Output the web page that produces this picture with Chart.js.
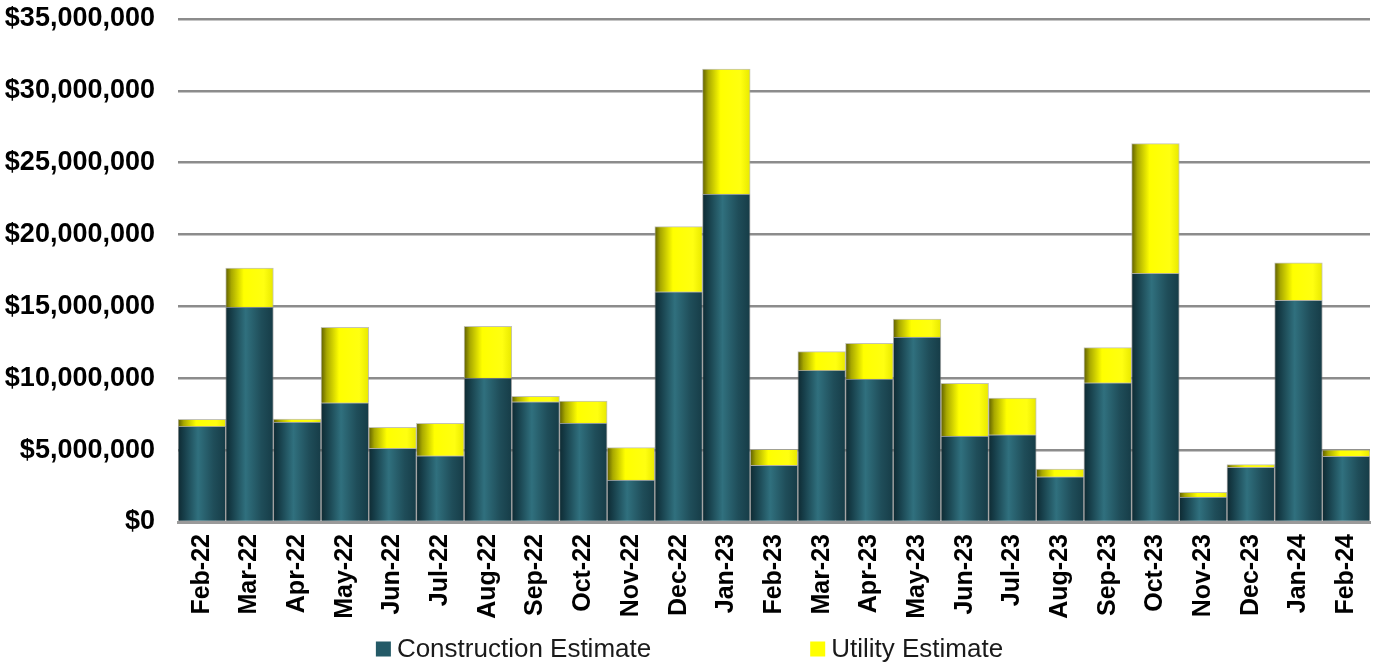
<!DOCTYPE html>
<html>
<head>
<meta charset="utf-8">
<script src="https://cdn.jsdelivr.net/npm/chart.js@4.4.1/dist/chart.umd.min.js"></script>
<style>
  html, body { margin: 0; padding: 0; background: #ffffff; }
  #wrap { width: 1379px; height: 667px; position: relative; }
</style>
</head>
<body>
<div id="wrap"><canvas id="c" width="1379" height="667"></canvas></div>
<script>
const categories = ["Feb-22","Mar-22","Apr-22","May-22","Jun-22","Jul-22","Aug-22","Sep-22","Oct-22","Nov-22","Dec-22","Jan-23","Feb-23","Mar-23","Apr-23","May-23","Jun-23","Jul-23","Aug-23","Sep-23","Oct-23","Nov-23","Dec-23","Jan-24","Feb-24"];
const constructionEstimate = [6650000,14960000,6960000,8300000,5130000,4610000,10020000,8370000,6890000,2920000,16020000,22820000,3950000,10550000,9950000,12870000,5980000,6070000,3150000,9690000,17300000,1740000,3810000,15430000,4570000];
const utilityEstimate = [500000,2710000,210000,5250000,1460000,2260000,3600000,380000,1530000,2250000,4530000,8700000,1110000,1300000,2480000,1250000,3670000,2560000,540000,2440000,9030000,330000,180000,2610000,460000];
const yTicks = [0,5000000,10000000,15000000,20000000,25000000,30000000,35000000];
const seriesNames = ["Construction Estimate","Utility Estimate"];

const tealStops = [[0,'#0e2a32'],[0.12,'#163d48'],[0.42,'#30707e'],[0.75,'#1f4d59'],[1,'#163c47']];
const yellowStops = [[0,'#5e5e00'],[0.12,'#a8a800'],[0.38,'#ffff00'],[0.8,'#ffff10'],[1,'#e8e800']];

function barGradient(context, stops) {
  const chart = context.chart;
  const area = chart.chartArea;
  if (!area || !chart.scales.x) return stops[2][1];
  const xs = chart.scales.x;
  const cx = xs.getPixelForValue(context.dataIndex);
  const w = (area.right - area.left) / categories.length;
  const g = chart.ctx.createLinearGradient(cx - w / 2, 0, cx + w / 2, 0);
  stops.forEach(s => g.addColorStop(s[0], s[1]));
  return g;
}

const customLegend = {
  id: 'customLegend',
  afterDraw(chart) {
    const ctx = chart.ctx;
    ctx.save();
    ctx.font = '26px "Liberation Sans", Arial, sans-serif';
    ctx.textBaseline = 'middle';
    const box = 15, tp = 6, gap = 159;
    const w1 = box + tp + ctx.measureText(seriesNames[0]).width;
    const w2 = box + tp + ctx.measureText(seriesNames[1]).width;
    const total = w1 + gap + w2;
    let x = (chart.width - total) / 2;
    const y = 650;
    const colors = ['#245a67', '#ffff00'];
    [w1, w2].forEach((w, i) => {
      ctx.fillStyle = colors[i];
      ctx.fillRect(x, y - box / 2 - 1, box, box);
      ctx.fillStyle = '#1a1a1a';
      ctx.fillText(seriesNames[i], x + box + tp, y);
      x += w + gap;
    });
    ctx.restore();
  }
};

new Chart(document.getElementById('c'), {
  type: 'bar',
  data: {
    labels: categories,
    datasets: [
      {
        label: seriesNames[0],
        data: constructionEstimate,
        backgroundColor: ctx => barGradient(ctx, tealStops),
        borderColor: 'rgba(110,110,110,0.55)',
        borderWidth: 1,
        borderSkipped: 'bottom',
        barPercentage: 1,
        categoryPercentage: 1
      },
      {
        label: seriesNames[1],
        data: utilityEstimate,
        backgroundColor: ctx => barGradient(ctx, yellowStops),
        borderColor: 'rgba(170,170,150,0.7)',
        borderWidth: 1,
        borderSkipped: 'bottom',
        barPercentage: 1,
        categoryPercentage: 1
      }
    ]
  },
  options: {
    responsive: false,
    animation: false,
    layout: { padding: { top: 19, right: 9, bottom: 44, left: 0 } },
    plugins: {
      legend: { display: false },
      tooltip: { enabled: false },
      title: { display: false }
    },
    scales: {
      x: {
        stacked: true,
        grid: { display: false, drawTicks: false },
        border: { display: true, color: '#9a9a9a', width: 3 },
        ticks: {
          color: '#000',
          font: { family: '"Liberation Sans", Arial, sans-serif', size: 25, weight: 'bold' },
          maxRotation: 90, minRotation: 90,
          padding: 12,
          autoSkip: false
        },
        afterFit: s => { s.height = 101; s.paddingLeft = 0; s.paddingRight = 0; }
      },
      y: {
        stacked: true,
        min: 0,
        max: yTicks[yTicks.length - 1],
        afterBuildTicks: s => { s.ticks = yTicks.map(v => ({ value: v })); },
        grid: { color: '#8c8c8c', lineWidth: 2.5, drawTicks: false },
        border: { display: false },
        ticks: {
          color: '#000',
          font: { family: '"Liberation Sans", Arial, sans-serif', size: 27, weight: 'bold' },
          padding: 23,
          callback: v => '$' + Number(v).toLocaleString('en-US')
        },
        afterFit: s => { s.width = 178; s.paddingTop = 0; s.paddingBottom = 0; }
      }
    }
  },
  plugins: [customLegend]
});
</script>
</body>
</html>
